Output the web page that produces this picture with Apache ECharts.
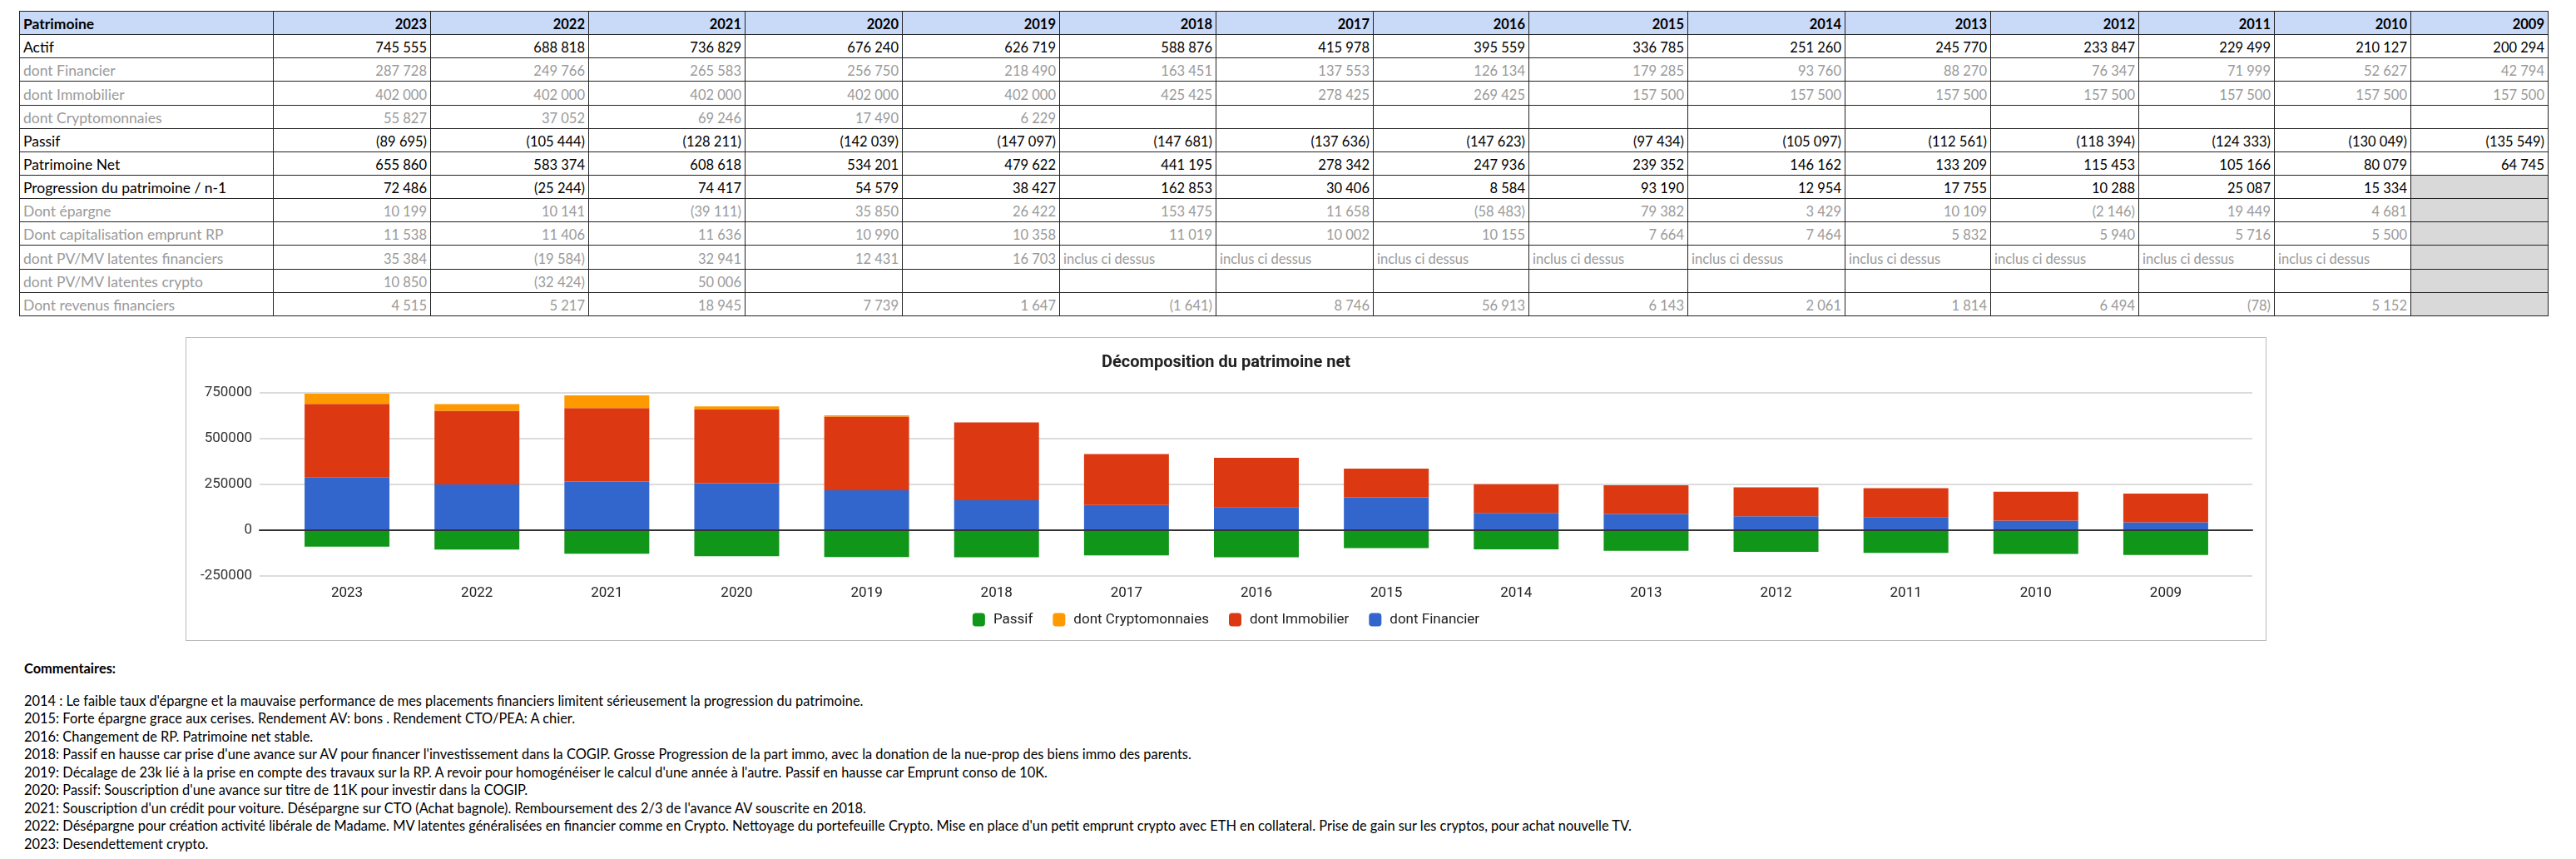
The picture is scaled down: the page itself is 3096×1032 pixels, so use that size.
<!DOCTYPE html>
<html lang="fr">
<head>
<meta charset="UTF-8">
<title>Patrimoine</title>
<script src="https://cdn.jsdelivr.net/npm/echarts@6/dist/echarts.min.js"></script>
<style>
    body {
        margin: 0;
        padding: 0;
        width: 3096px;
        height: 1032px;
        overflow: hidden;
        background: #fff;
        position: relative;
    }
    #table {
        position: absolute;
        left: 23px;
        top: 13px;
        border-collapse: collapse;
        table-layout: fixed;
        font-family: Lato, "Open Sans", sans-serif;
        font-size: 16.5px;
        color: #000;
    }
    #table tr { height: 28.15px; }
    #table td {
        border: 1px solid #222;
        padding: 0 4px 2px 4px;
        line-height: 20px;
        vertical-align: bottom;
        white-space: nowrap;
        overflow: hidden;
        text-align: right;
    }
    #table td.lbl { font-size: 17.5px; }
    #table td.lbl, #table td.txt { text-align: left; }
    #table tr.head td { background: #c9daf8; font-weight: bold; }
    #table tr.sub td { color: #9a9a9a; }
    #table td.off { background: #d9d9d9; }
    #chart {
        position: absolute;
        left: 223px;
        top: 405px;
        width: 2501px;
        height: 365px;
        box-sizing: border-box;
        border: 1px solid #bcbcbc;
    }
    #notes {
        position: absolute;
        left: 29px;
        top: 792px;
        font-family: Lato, "Open Sans", sans-serif;
        font-size: 16.4px;
        color: #000;
        line-height: 21.5px;
    }
    #notes .t { font-weight: bold; margin-bottom: 17px; }
</style>
</head>
<body>
<table id="table"></table>
<div id="chart"></div>
<div id="notes"></div>
<script>
// colonnes du tableau
const years = ['2023','2022','2021','2020','2019','2018','2017','2016','2015','2014','2013','2012','2011','2010','2009'];

const actif = [745555, 688818, 736829, 676240, 626719, 588876, 415978, 395559, 336785, 251260, 245770, 233847, 229499, 210127, 200294];
const financier = [287728, 249766, 265583, 256750, 218490, 163451, 137553, 126134, 179285, 93760, 88270, 76347, 71999, 52627, 42794];
const immobilier = [402000, 402000, 402000, 402000, 402000, 425425, 278425, 269425, 157500, 157500, 157500, 157500, 157500, 157500, 157500];
const crypto = [55827, 37052, 69246, 17490, 6229, null, null, null, null, null, null, null, null, null, null];
const passif = [-89695, -105444, -128211, -142039, -147097, -147681, -137636, -147623, -97434, -105097, -112561, -118394, -124333, -130049, -135549];
const patrimoineNet = [655860, 583374, 608618, 534201, 479622, 441195, 278342, 247936, 239352, 146162, 133209, 115453, 105166, 80079, 64745];
const progression = [72486, -25244, 74417, 54579, 38427, 162853, 30406, 8584, 93190, 12954, 17755, 10288, 25087, 15334, null];
const epargne = [10199, 10141, -39111, 35850, 26422, 153475, 11658, -58483, 79382, 3429, 10109, -2146, 19449, 4681, null];
const capitalisation = [11538, 11406, 11636, 10990, 10358, 11019, 10002, 10155, 7664, 7464, 5832, 5940, 5716, 5500, null];
const pvFinanciers = [35384, -19584, 32941, 12431, 16703, 'inclus ci dessus', 'inclus ci dessus', 'inclus ci dessus', 'inclus ci dessus', 'inclus ci dessus', 'inclus ci dessus', 'inclus ci dessus', 'inclus ci dessus', 'inclus ci dessus', null];
const pvCrypto = [10850, -32424, 50006, null, null, null, null, null, null, null, null, null, null, null, null];
const revenus = [4515, 5217, 18945, 7739, 1647, -1641, 8746, 56913, 6143, 2061, 1814, 6494, -78, 5152, null];

const comments = [
    "2014 : Le faible taux d'épargne et la mauvaise performance de mes placements financiers limitent sérieusement la progression du patrimoine.",
    "2015: Forte épargne grace aux cerises. Rendement AV: bons . Rendement CTO/PEA: A chier.",
    "2016: Changement de RP. Patrimoine net stable.",
    "2018: Passif en hausse car prise d'une avance sur AV pour financer l'investissement dans la COGIP. Grosse Progression de la part immo, avec la donation de la nue-prop des biens immo des parents.",
    "2019: Décalage de 23k lié à la prise en compte des travaux sur la RP. A revoir pour homogénéiser le calcul d'une année à l'autre. Passif en hausse car Emprunt conso de 10K.",
    "2020: Passif: Souscription d'une avance sur titre de 11K pour investir dans la COGIP.",
    "2021: Souscription d'un crédit pour voiture. Désépargne sur CTO (Achat bagnole). Remboursement des 2/3 de l'avance AV souscrite en 2018.",
    "2022: Désépargne pour création activité libérale de Madame. MV latentes généralisées en financier comme en Crypto. Nettoyage du portefeuille Crypto. Mise en place d'un petit emprunt crypto avec ETH en collateral. Prise de gain sur les cryptos, pour achat nouvelle TV.",
    "2023: Desendettement crypto."
];

// ---- tableau ----
const colWidths = [305, 189, 190, 188, 189, 189, 188, 189, 187, 191, 189, 175, 178, 163, 164, 165];
const rows = [
    ['Actif', actif, ''],
    ['dont Financier', financier, 'sub'],
    ['dont Immobilier', immobilier, 'sub'],
    ['dont Cryptomonnaies', crypto, 'sub'],
    ['Passif', passif, ''],
    ['Patrimoine Net', patrimoineNet, ''],
    ['Progression du patrimoine / n-1', progression, '', true],
    ['Dont épargne', epargne, 'sub', true],
    ['Dont capitalisation emprunt RP', capitalisation, 'sub', true],
    ['dont PV/MV latentes financiers', pvFinanciers, 'sub', true],
    ['dont PV/MV latentes crypto', pvCrypto, 'sub', true],
    ['Dont revenus financiers', revenus, 'sub', true]
];

const fmt = v => {
    let s = Math.abs(v).toString().replace(/\B(?=(\d{3})+(?!\d))/g, '\u00a0');
    return v < 0 ? `(${s})` : s;
};

let html = '<colgroup>' + colWidths.map(w => `<col style="width:${w}px">`).join('') + '</colgroup>';
html += '<tr class="head"><td class="lbl">Patrimoine</td>' + years.map(y => `<td>${y}</td>`).join('') + '</tr>';
rows.forEach(r => {
    html += `<tr class="${r[2]}"><td class="lbl">${r[0]}</td>`;
    r[1].forEach((v, i) => {
        let off = r[3] && i === years.length - 1;
        if (v === null) {
            html += `<td${off ? ' class="off"' : ''}></td>`;
        } else if (typeof v === 'string') {
            html += `<td class="txt">${v}</td>`;
        } else {
            html += `<td>${fmt(v)}</td>`;
        }
    });
    html += '</tr>';
});
document.getElementById('table').innerHTML = html;

// ---- commentaires ----
document.getElementById('notes').innerHTML =
    '<div class="t">Commentaires:</div>' + comments.map(c => `<div>${c}</div>`).join('');

// ---- graphique ----
const ec = echarts.init(document.getElementById('chart'));
const font = 'Roboto, Arial, sans-serif';
const bar = (name, data, color) => ({
    name: name,
    type: 'bar',
    stack: 'total',
    xAxisIndex: 1,
    yAxisIndex: 1,
    barWidth: 102,
    itemStyle: { color: color },
    data: data
});
ec.setOption({
    animation: false,
    title: {
        text: 'Décomposition du patrimoine net',
        left: 'center',
        top: 20,
        padding: 0,
        textStyle: { fontFamily: font, fontSize: 20, fontWeight: 'bold', color: '#222' }
    },
    legend: {
        data: ['Passif', 'dont Cryptomonnaies', 'dont Immobilier', 'dont Financier'],
        left: 'center',
        top: 330,
        padding: 0,
        icon: 'roundRect',
        itemWidth: 15,
        itemHeight: 16,
        itemGap: 24,
        textStyle: { fontFamily: font, fontSize: 17, color: '#222', padding: [0, 0, 0, 5] }
    },
    grid: [
        { left: 88, right: 16, top: 66, bottom: 77 },
        { left: 115, right: 42, top: 66, bottom: 77 }
    ],
    xAxis: [
        {
            gridIndex: 0, type: 'value', min: 0, max: 1, z: 5,
            axisLine: { show: true, onZero: true, lineStyle: { color: '#333', width: 2 } },
            axisTick: { show: false }, axisLabel: { show: false }, splitLine: { show: false }
        },
        {
            gridIndex: 1, type: 'category', data: years,
            axisLine: { show: false }, axisTick: { show: false },
            axisLabel: { margin: 12, fontFamily: font, fontSize: 17, color: '#222' }
        }
    ],
    yAxis: [
        {
            gridIndex: 0, type: 'value', min: -250000, max: 750000, interval: 250000,
            axisLine: { show: false }, axisTick: { show: false },
            axisLabel: { margin: 9, fontFamily: font, fontSize: 17, color: '#333', formatter: v => String(v) },
            splitLine: { lineStyle: { color: '#d0d0d0', width: 1.5 } }
        },
        {
            gridIndex: 1, type: 'value', min: -250000, max: 750000, interval: 250000, show: false
        }
    ],
    series: [
        bar('dont Financier', financier, '#3366cc'),
        bar('dont Immobilier', immobilier, '#dc3912'),
        bar('dont Cryptomonnaies', crypto, '#ff9900'),
        bar('Passif', passif, '#109618')
    ]
});
</script>
</body>
</html>
